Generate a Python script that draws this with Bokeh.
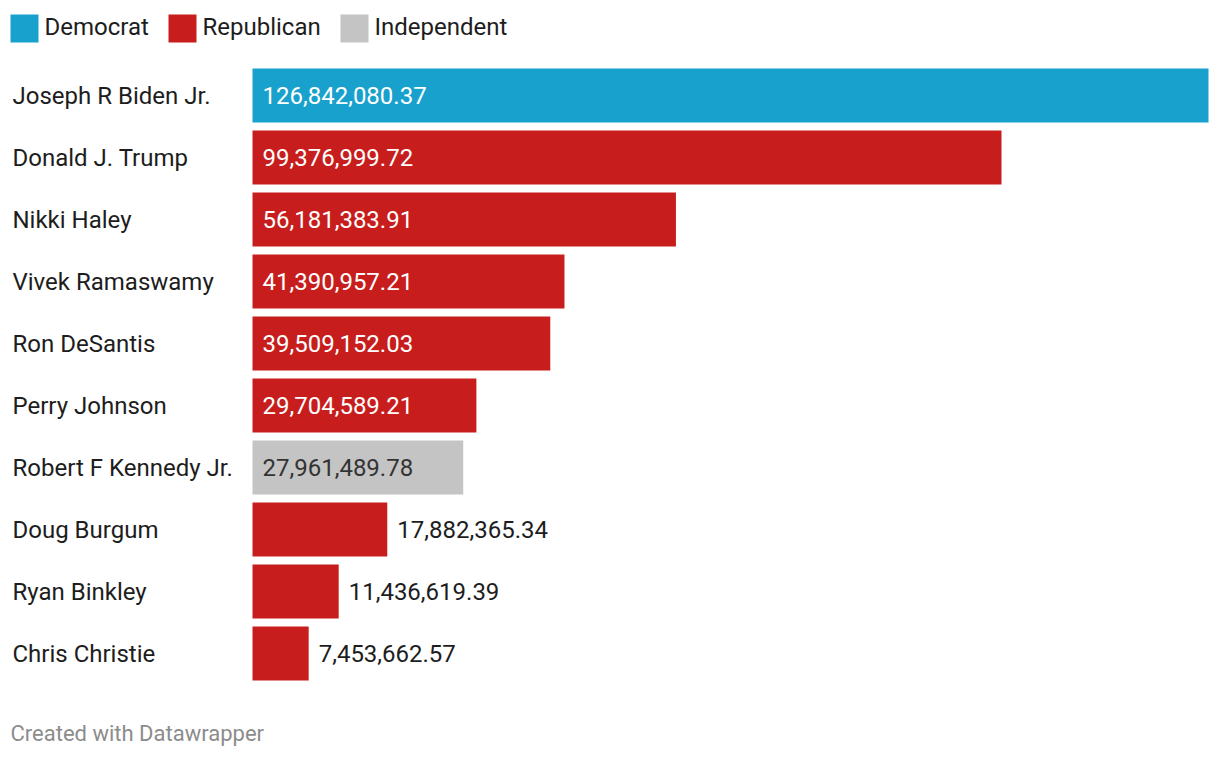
from bokeh.plotting import figure
from bokeh.models import Range1d, ColumnDataSource, Label, BoxAnnotation
from bokeh.core.properties import value
from bokeh.embed import file_html
from bokeh.resources import INLINE

# ---- data ----
candidates = ["Joseph R Biden Jr.", "Donald J. Trump", "Nikki Haley", "Vivek Ramaswamy",
              "Ron DeSantis", "Perry Johnson", "Robert F Kennedy Jr.", "Doug Burgum",
              "Ryan Binkley", "Chris Christie"]
amounts = [126842080.37, 99376999.72, 56181383.91, 41390957.21, 39509152.03,
           29704589.21, 27961489.78, 17882365.34, 11436619.39, 7453662.57]
parties = ["Democrat", "Republican", "Republican", "Republican", "Republican",
           "Republican", "Independent", "Republican", "Republican", "Republican"]
legend_parties = ["Democrat", "Republican", "Independent"]

# ---- style ----
FONT = "Roboto"
party_colors = {"Democrat": "#18a1cd", "Republican": "#c71e1d", "Independent": "#c4c4c4"}
W, H = 1212, 748
BAR_LEFT_PX, BAR_SPAN_PX = 252, 956
ROW_PX, FIRST_ROW_PX = 62, 95

vmax = max(amounts)
upp = vmax / BAR_SPAN_PX  # data units per pixel
x_start = -BAR_LEFT_PX * upp
x_end = (W - BAR_LEFT_PX) * upp

p = figure(width=W, height=H, output_backend="svg", toolbar_location=None,
           x_range=Range1d(x_start, x_end),
           y_range=Range1d((H - FIRST_ROW_PX) / ROW_PX, -FIRST_ROW_PX / ROW_PX),
           min_border=0, min_border_left=0, min_border_right=0,
           min_border_top=0, min_border_bottom=0)
p.axis.visible = False
p.grid.visible = False
p.outline_line_color = None
p.background_fill_color = "white"
p.border_fill_color = "white"

idx = list(range(len(candidates)))
colors = [party_colors[pp] for pp in parties]
src = ColumnDataSource(dict(y=idx, amt=amounts, left=[0] * len(amounts),
                            name=candidates, color=colors,
                            lx=[x_start + 12 * upp] * len(amounts)))
p.hbar(y="y", left="left", right="amt", height=54 / ROW_PX, color="color",
       line_color=None, source=src)

p.text(x="lx", y="y", text="name", source=src, text_font=value(FONT),
       text_font_size="24px", text_color="#1d1d1d", text_baseline="middle")

# value labels
labels = ["{:,.2f}".format(a) for a in amounts]
inside = [a / upp > 190 for a in amounts]
vx = [0 if ins else a for a, ins in zip(amounts, inside)]
voff = [10 if ins else 10 for ins in inside]
vcol = []
for ins, pp in zip(inside, parties):
    if ins:
        vcol.append("#333333" if pp == "Independent" else "#ffffff")
    else:
        vcol.append("#1d1d1d")
vsrc = ColumnDataSource(dict(x=vx, y=idx, t=labels, off=voff, c=vcol))
p.text(x="x", y="y", text="t", x_offset="off", text_color="c", source=vsrc,
       text_font=value(FONT), text_font_size="24px", text_baseline="middle")

# legend
sw_x = [10, 168, 340]
tx_x = [44, 202, 374]
for party, sx, tx in zip(legend_parties, sw_x, tx_x):
    p.add_layout(BoxAnnotation(left=sx, right=sx + 28, top=H - 14, bottom=H - 42,
                               left_units="screen", right_units="screen",
                               top_units="screen", bottom_units="screen",
                               fill_color=party_colors[party], fill_alpha=1,
                               line_color=None))
    p.add_layout(Label(x=tx, y=H - 26, x_units="screen", y_units="screen",
                       text=party, text_font=FONT, text_font_size="24px",
                       text_color="#1d1d1d", text_baseline="middle"))

p.add_layout(Label(x=10, y=H - 733, x_units="screen", y_units="screen",
                   text="Created with Datawrapper", text_font=FONT,
                   text_font_size="22px", text_color="#8c8c8c", text_baseline="middle"))

open("out.html", "w").write(file_html(p, INLINE))
